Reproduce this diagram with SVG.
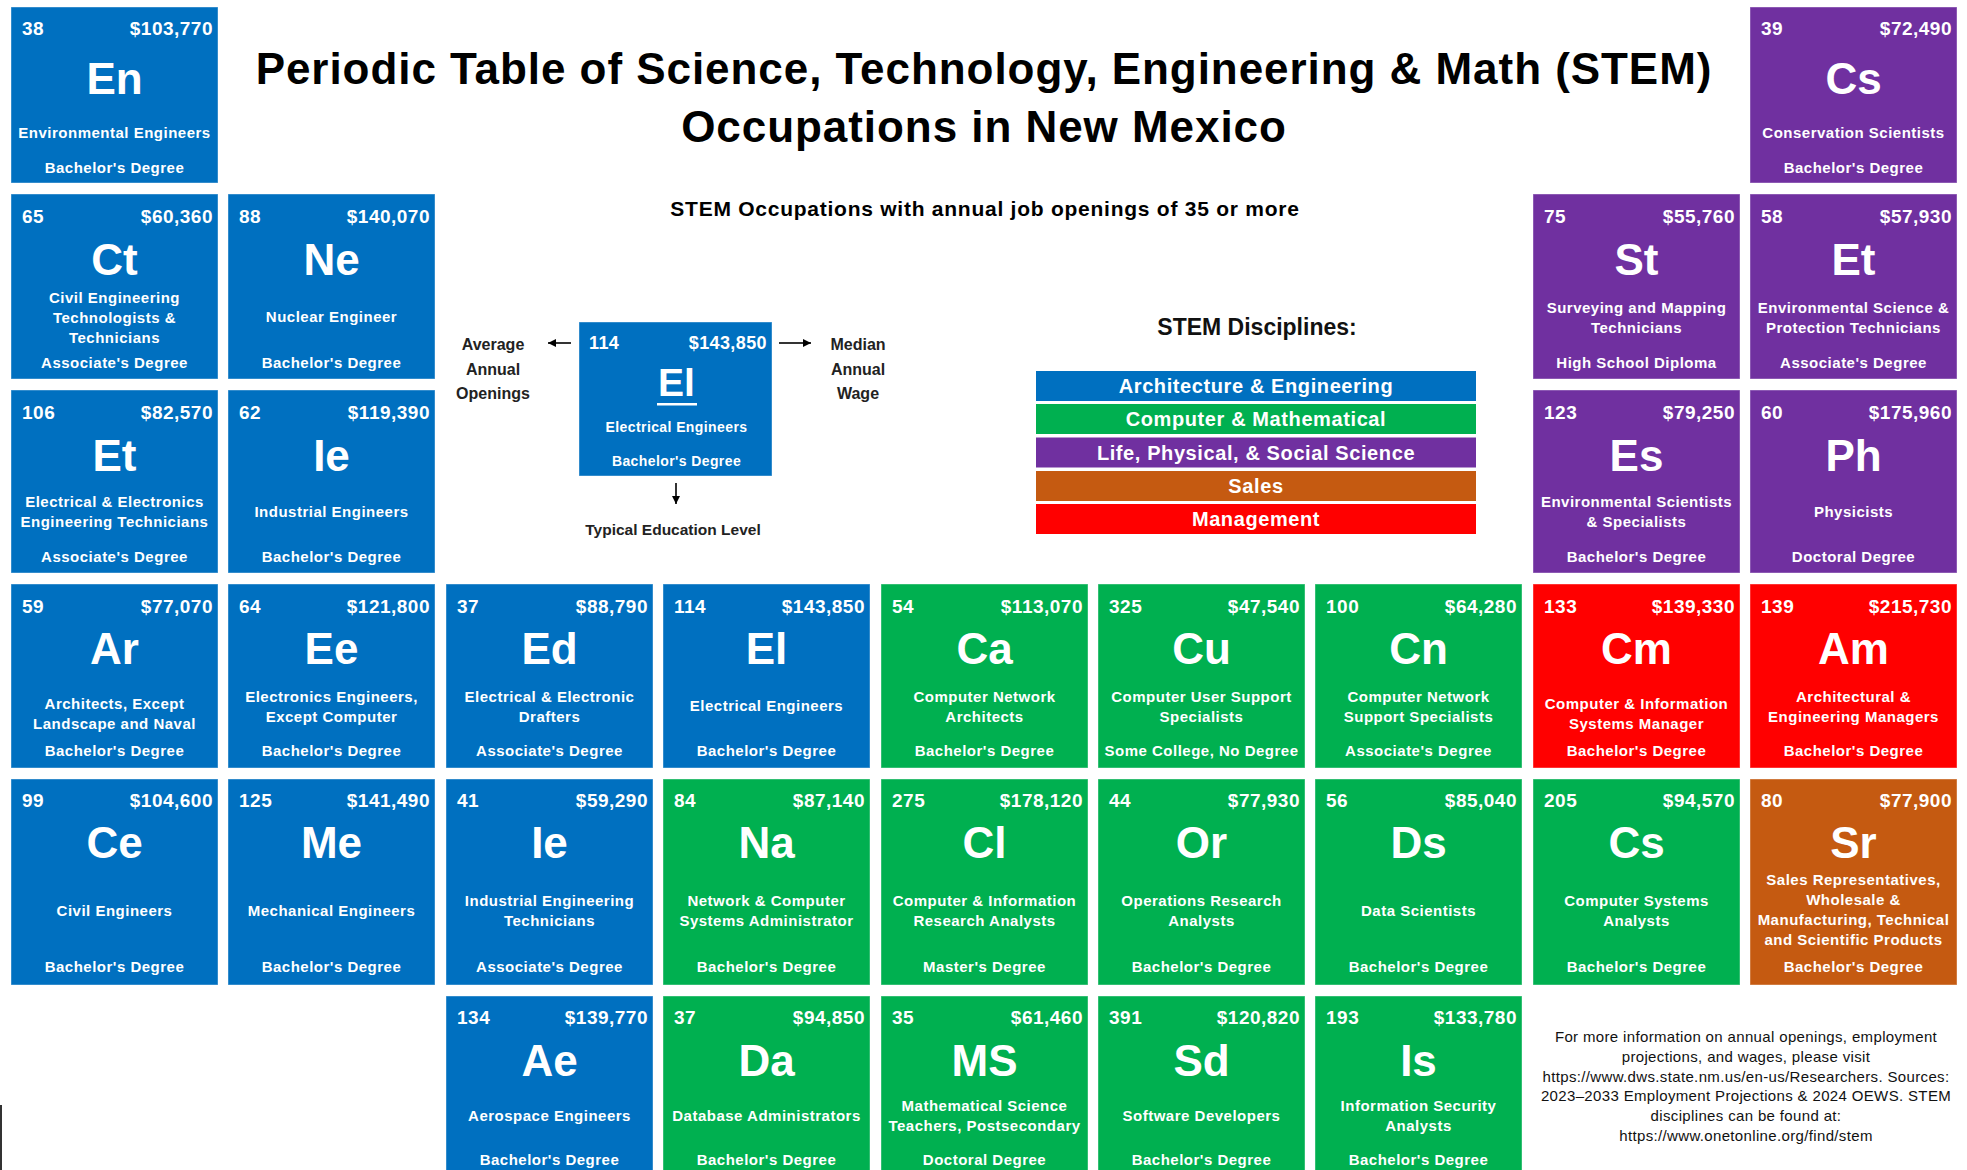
<svg xmlns="http://www.w3.org/2000/svg" width="1967" height="1170" viewBox="0 0 1967 1170">
<defs>
<style>
.bg{fill:#ffffff}
.tile{stroke:#ffffff;stroke-opacity:0.4;stroke-width:1}
.blue{fill:#0070C0}.green{fill:#00B050}.purple{fill:#7030A0}.red{fill:#FF0000}.brown{fill:#C55A11}
.num{font-family:"Liberation Sans",Arial,sans-serif;font-weight:bold;font-size:19px;fill:#fff;letter-spacing:0.5px}
.wage{font-family:"Liberation Sans",Arial,sans-serif;font-weight:bold;font-size:19px;fill:#fff;letter-spacing:0.5px;text-anchor:end}
.sym{font-family:"Liberation Sans",Arial,sans-serif;font-weight:bold;font-size:44px;fill:#fff;text-anchor:middle}
.nm{font-family:"Liberation Sans",Arial,sans-serif;font-weight:bold;font-size:15px;fill:#fff;letter-spacing:0.5px;text-anchor:middle}
.title{font-family:"Liberation Sans",Arial,sans-serif;font-weight:bold;font-size:44px;fill:#000;letter-spacing:0.95px;text-anchor:middle}
.sub{font-family:"Liberation Sans",Arial,sans-serif;font-weight:bold;font-size:21px;fill:#000;letter-spacing:0.75px;text-anchor:middle}
.lbl{font-family:"Liberation Sans",Arial,sans-serif;font-weight:bold;font-size:16px;fill:#222;text-anchor:middle}
.lnum{font-family:"Liberation Sans",Arial,sans-serif;font-weight:bold;font-size:18px;fill:#fff;letter-spacing:0.4px}
.lnm{font-family:"Liberation Sans",Arial,sans-serif;font-weight:bold;font-size:14px;fill:#fff;letter-spacing:0.4px;text-anchor:middle}
.disc{font-family:"Liberation Sans",Arial,sans-serif;font-weight:bold;font-size:23px;fill:#111;text-anchor:middle}
.bar{font-family:"Liberation Sans",Arial,sans-serif;font-weight:bold;font-size:20px;fill:#fff;letter-spacing:0.6px;text-anchor:middle}
.foot{font-family:"Liberation Sans",Arial,sans-serif;font-size:15px;fill:#111;letter-spacing:0.35px;text-anchor:middle}
.conn{stroke:#000;stroke-width:1.6;fill:none}
</style>
<marker id="ah" viewBox="0 0 10 10" refX="10" refY="5" markerWidth="8" markerHeight="8" markerUnits="userSpaceOnUse" orient="auto">
<path d="M0,0 L10,5 L0,10 z" fill="#000"/>
</marker>
</defs>
<rect class="bg" x="0" y="0" width="1967" height="1170"/>
<rect x="0" y="1105" width="2" height="65" fill="#333"/>

<g id="title">
<text class="title" x="984" y="84">Periodic Table of Science, Technology, Engineering &amp; Math (STEM)</text>
<text class="title" x="984" y="142">Occupations in New Mexico</text>
<text class="sub" x="985" y="216">STEM Occupations with annual job openings of 35 or more</text>
</g>

<!-- Row 1 -->
<g id="r1-En"><rect class="tile blue" x="11" y="7" width="207" height="176"/>
<text class="num" x="22" y="35">38</text><text class="wage" x="213" y="35">$103,770</text>
<text class="sym" x="114.5" y="94">En</text>
<text class="nm" x="114.5" y="138">Environmental Engineers</text>
<text class="nm" x="114.5" y="173">Bachelor's Degree</text></g>
<g id="r1-Cs"><rect class="tile purple" x="1750" y="7" width="207" height="176"/>
<text class="num" x="1761" y="35">39</text><text class="wage" x="1952" y="35">$72,490</text>
<text class="sym" x="1853.5" y="94">Cs</text>
<text class="nm" x="1853.5" y="138">Conservation Scientists</text>
<text class="nm" x="1853.5" y="173">Bachelor's Degree</text></g>

<!-- Row 2 -->
<g id="r2-Ct"><rect class="tile blue" x="11" y="194" width="207" height="185"/>
<text class="num" x="22" y="223">65</text><text class="wage" x="213" y="223">$60,360</text>
<text class="sym" x="114.5" y="275">Ct</text>
<text class="nm" x="114.5" y="303">Civil Engineering</text>
<text class="nm" x="114.5" y="323">Technologists &amp;</text>
<text class="nm" x="114.5" y="343">Technicians</text>
<text class="nm" x="114.5" y="368">Associate's Degree</text></g>
<g id="r2-Ne"><rect class="tile blue" x="228" y="194" width="207" height="185"/>
<text class="num" x="239" y="223">88</text><text class="wage" x="430" y="223">$140,070</text>
<text class="sym" x="331.5" y="275">Ne</text>
<text class="nm" x="331.5" y="322">Nuclear Engineer</text>
<text class="nm" x="331.5" y="368">Bachelor's Degree</text></g>
<g id="r2-St"><rect class="tile purple" x="1533" y="194" width="207" height="185"/>
<text class="num" x="1544" y="223">75</text><text class="wage" x="1735" y="223">$55,760</text>
<text class="sym" x="1636.5" y="275">St</text>
<text class="nm" x="1636.5" y="313">Surveying and Mapping</text>
<text class="nm" x="1636.5" y="333">Technicians</text>
<text class="nm" x="1636.5" y="368">High School Diploma</text></g>
<g id="r2-Et"><rect class="tile purple" x="1750" y="194" width="207" height="185"/>
<text class="num" x="1761" y="223">58</text><text class="wage" x="1952" y="223">$57,930</text>
<text class="sym" x="1853.5" y="275">Et</text>
<text class="nm" x="1853.5" y="313">Environmental Science &amp;</text>
<text class="nm" x="1853.5" y="333">Protection Technicians</text>
<text class="nm" x="1853.5" y="368">Associate's Degree</text></g>

<!-- Row 3 -->
<g id="r3-Et"><rect class="tile blue" x="11" y="390" width="207" height="183"/>
<text class="num" x="22" y="419">106</text><text class="wage" x="213" y="419">$82,570</text>
<text class="sym" x="114.5" y="471">Et</text>
<text class="nm" x="114.5" y="507">Electrical &amp; Electronics</text>
<text class="nm" x="114.5" y="527">Engineering Technicians</text>
<text class="nm" x="114.5" y="562">Associate's Degree</text></g>
<g id="r3-Ie"><rect class="tile blue" x="228" y="390" width="207" height="183"/>
<text class="num" x="239" y="419">62</text><text class="wage" x="430" y="419">$119,390</text>
<text class="sym" x="331.5" y="471">Ie</text>
<text class="nm" x="331.5" y="517">Industrial Engineers</text>
<text class="nm" x="331.5" y="562">Bachelor's Degree</text></g>
<g id="r3-Es"><rect class="tile purple" x="1533" y="390" width="207" height="183"/>
<text class="num" x="1544" y="419">123</text><text class="wage" x="1735" y="419">$79,250</text>
<text class="sym" x="1636.5" y="471">Es</text>
<text class="nm" x="1636.5" y="507">Environmental Scientists</text>
<text class="nm" x="1636.5" y="527">&amp; Specialists</text>
<text class="nm" x="1636.5" y="562">Bachelor's Degree</text></g>
<g id="r3-Ph"><rect class="tile purple" x="1750" y="390" width="207" height="183"/>
<text class="num" x="1761" y="419">60</text><text class="wage" x="1952" y="419">$175,960</text>
<text class="sym" x="1853.5" y="471">Ph</text>
<text class="nm" x="1853.5" y="517">Physicists</text>
<text class="nm" x="1853.5" y="562">Doctoral Degree</text></g>

<!-- Row 4 -->
<g id="r4-Ar"><rect class="tile blue" x="11" y="584" width="207" height="184"/>
<text class="num" x="22" y="613">59</text><text class="wage" x="213" y="613">$77,070</text>
<text class="sym" x="114.5" y="664">Ar</text>
<text class="nm" x="114.5" y="709">Architects, Except</text>
<text class="nm" x="114.5" y="729">Landscape and Naval</text>
<text class="nm" x="114.5" y="756">Bachelor's Degree</text></g>
<g id="r4-Ee"><rect class="tile blue" x="228" y="584" width="207" height="184"/>
<text class="num" x="239" y="613">64</text><text class="wage" x="430" y="613">$121,800</text>
<text class="sym" x="331.5" y="664">Ee</text>
<text class="nm" x="331.5" y="702">Electronics Engineers,</text>
<text class="nm" x="331.5" y="722">Except Computer</text>
<text class="nm" x="331.5" y="756">Bachelor's Degree</text></g>
<g id="r4-Ed"><rect class="tile blue" x="446" y="584" width="207" height="184"/>
<text class="num" x="457" y="613">37</text><text class="wage" x="648" y="613">$88,790</text>
<text class="sym" x="549.5" y="664">Ed</text>
<text class="nm" x="549.5" y="702">Electrical &amp; Electronic</text>
<text class="nm" x="549.5" y="722">Drafters</text>
<text class="nm" x="549.5" y="756">Associate's Degree</text></g>
<g id="r4-El"><rect class="tile blue" x="663" y="584" width="207" height="184"/>
<text class="num" x="674" y="613">114</text><text class="wage" x="865" y="613">$143,850</text>
<text class="sym" x="766.5" y="664">El</text>
<text class="nm" x="766.5" y="711">Electrical Engineers</text>
<text class="nm" x="766.5" y="756">Bachelor's Degree</text></g>
<g id="r4-Ca"><rect class="tile green" x="881" y="584" width="207" height="184"/>
<text class="num" x="892" y="613">54</text><text class="wage" x="1083" y="613">$113,070</text>
<text class="sym" x="984.5" y="664">Ca</text>
<text class="nm" x="984.5" y="702">Computer Network</text>
<text class="nm" x="984.5" y="722">Architects</text>
<text class="nm" x="984.5" y="756">Bachelor's Degree</text></g>
<g id="r4-Cu"><rect class="tile green" x="1098" y="584" width="207" height="184"/>
<text class="num" x="1109" y="613">325</text><text class="wage" x="1300" y="613">$47,540</text>
<text class="sym" x="1201.5" y="664">Cu</text>
<text class="nm" x="1201.5" y="702">Computer User Support</text>
<text class="nm" x="1201.5" y="722">Specialists</text>
<text class="nm" x="1201.5" y="756">Some College, No Degree</text></g>
<g id="r4-Cn"><rect class="tile green" x="1315" y="584" width="207" height="184"/>
<text class="num" x="1326" y="613">100</text><text class="wage" x="1517" y="613">$64,280</text>
<text class="sym" x="1418.5" y="664">Cn</text>
<text class="nm" x="1418.5" y="702">Computer Network</text>
<text class="nm" x="1418.5" y="722">Support Specialists</text>
<text class="nm" x="1418.5" y="756">Associate's Degree</text></g>
<g id="r4-Cm"><rect class="tile red" x="1533" y="584" width="207" height="184"/>
<text class="num" x="1544" y="613">133</text><text class="wage" x="1735" y="613">$139,330</text>
<text class="sym" x="1636.5" y="664">Cm</text>
<text class="nm" x="1636.5" y="709">Computer &amp; Information</text>
<text class="nm" x="1636.5" y="729">Systems Manager</text>
<text class="nm" x="1636.5" y="756">Bachelor's Degree</text></g>
<g id="r4-Am"><rect class="tile red" x="1750" y="584" width="207" height="184"/>
<text class="num" x="1761" y="613">139</text><text class="wage" x="1952" y="613">$215,730</text>
<text class="sym" x="1853.5" y="664">Am</text>
<text class="nm" x="1853.5" y="702">Architectural &amp;</text>
<text class="nm" x="1853.5" y="722">Engineering Managers</text>
<text class="nm" x="1853.5" y="756">Bachelor's Degree</text></g>

<!-- Row 5 -->
<g id="r5-Ce"><rect class="tile blue" x="11" y="779" width="207" height="206"/>
<text class="num" x="22" y="807">99</text><text class="wage" x="213" y="807">$104,600</text>
<text class="sym" x="114.5" y="858">Ce</text>
<text class="nm" x="114.5" y="916">Civil Engineers</text>
<text class="nm" x="114.5" y="972">Bachelor's Degree</text></g>
<g id="r5-Me"><rect class="tile blue" x="228" y="779" width="207" height="206"/>
<text class="num" x="239" y="807">125</text><text class="wage" x="430" y="807">$141,490</text>
<text class="sym" x="331.5" y="858">Me</text>
<text class="nm" x="331.5" y="916">Mechanical Engineers</text>
<text class="nm" x="331.5" y="972">Bachelor's Degree</text></g>
<g id="r5-Ie"><rect class="tile blue" x="446" y="779" width="207" height="206"/>
<text class="num" x="457" y="807">41</text><text class="wage" x="648" y="807">$59,290</text>
<text class="sym" x="549.5" y="858">Ie</text>
<text class="nm" x="549.5" y="906">Industrial Engineering</text>
<text class="nm" x="549.5" y="926">Technicians</text>
<text class="nm" x="549.5" y="972">Associate's Degree</text></g>
<g id="r5-Na"><rect class="tile green" x="663" y="779" width="207" height="206"/>
<text class="num" x="674" y="807">84</text><text class="wage" x="865" y="807">$87,140</text>
<text class="sym" x="766.5" y="858">Na</text>
<text class="nm" x="766.5" y="906">Network &amp; Computer</text>
<text class="nm" x="766.5" y="926">Systems Administrator</text>
<text class="nm" x="766.5" y="972">Bachelor's Degree</text></g>
<g id="r5-Cl"><rect class="tile green" x="881" y="779" width="207" height="206"/>
<text class="num" x="892" y="807">275</text><text class="wage" x="1083" y="807">$178,120</text>
<text class="sym" x="984.5" y="858">Cl</text>
<text class="nm" x="984.5" y="906">Computer &amp; Information</text>
<text class="nm" x="984.5" y="926">Research Analysts</text>
<text class="nm" x="984.5" y="972">Master's Degree</text></g>
<g id="r5-Or"><rect class="tile green" x="1098" y="779" width="207" height="206"/>
<text class="num" x="1109" y="807">44</text><text class="wage" x="1300" y="807">$77,930</text>
<text class="sym" x="1201.5" y="858">Or</text>
<text class="nm" x="1201.5" y="906">Operations Research</text>
<text class="nm" x="1201.5" y="926">Analysts</text>
<text class="nm" x="1201.5" y="972">Bachelor's Degree</text></g>
<g id="r5-Ds"><rect class="tile green" x="1315" y="779" width="207" height="206"/>
<text class="num" x="1326" y="807">56</text><text class="wage" x="1517" y="807">$85,040</text>
<text class="sym" x="1418.5" y="858">Ds</text>
<text class="nm" x="1418.5" y="916">Data Scientists</text>
<text class="nm" x="1418.5" y="972">Bachelor's Degree</text></g>
<g id="r5-Cs"><rect class="tile green" x="1533" y="779" width="207" height="206"/>
<text class="num" x="1544" y="807">205</text><text class="wage" x="1735" y="807">$94,570</text>
<text class="sym" x="1636.5" y="858">Cs</text>
<text class="nm" x="1636.5" y="906">Computer Systems</text>
<text class="nm" x="1636.5" y="926">Analysts</text>
<text class="nm" x="1636.5" y="972">Bachelor's Degree</text></g>
<g id="r5-Sr"><rect class="tile brown" x="1750" y="779" width="207" height="206"/>
<text class="num" x="1761" y="807">80</text><text class="wage" x="1952" y="807">$77,900</text>
<text class="sym" x="1853.5" y="858">Sr</text>
<text class="nm" x="1853.5" y="885">Sales Representatives,</text>
<text class="nm" x="1853.5" y="905">Wholesale &amp;</text>
<text class="nm" x="1853.5" y="925">Manufacturing, Technical</text>
<text class="nm" x="1853.5" y="945">and Scientific Products</text>
<text class="nm" x="1853.5" y="972">Bachelor's Degree</text></g>

<!-- Row 6 -->
<g id="r6-Ae"><rect class="tile blue" x="446" y="996" width="207" height="190"/>
<text class="num" x="457" y="1024">134</text><text class="wage" x="648" y="1024">$139,770</text>
<text class="sym" x="549.5" y="1076">Ae</text>
<text class="nm" x="549.5" y="1121">Aerospace Engineers</text>
<text class="nm" x="549.5" y="1165">Bachelor's Degree</text></g>
<g id="r6-Da"><rect class="tile green" x="663" y="996" width="207" height="190"/>
<text class="num" x="674" y="1024">37</text><text class="wage" x="865" y="1024">$94,850</text>
<text class="sym" x="766.5" y="1076">Da</text>
<text class="nm" x="766.5" y="1121">Database Administrators</text>
<text class="nm" x="766.5" y="1165">Bachelor's Degree</text></g>
<g id="r6-MS"><rect class="tile green" x="881" y="996" width="207" height="190"/>
<text class="num" x="892" y="1024">35</text><text class="wage" x="1083" y="1024">$61,460</text>
<text class="sym" x="984.5" y="1076">MS</text>
<text class="nm" x="984.5" y="1111">Mathematical Science</text>
<text class="nm" x="984.5" y="1131">Teachers, Postsecondary</text>
<text class="nm" x="984.5" y="1165">Doctoral Degree</text></g>
<g id="r6-Sd"><rect class="tile green" x="1098" y="996" width="207" height="190"/>
<text class="num" x="1109" y="1024">391</text><text class="wage" x="1300" y="1024">$120,820</text>
<text class="sym" x="1201.5" y="1076">Sd</text>
<text class="nm" x="1201.5" y="1121">Software Developers</text>
<text class="nm" x="1201.5" y="1165">Bachelor's Degree</text></g>
<g id="r6-Is"><rect class="tile green" x="1315" y="996" width="207" height="190"/>
<text class="num" x="1326" y="1024">193</text><text class="wage" x="1517" y="1024">$133,780</text>
<text class="sym" x="1418.5" y="1076">Is</text>
<text class="nm" x="1418.5" y="1111">Information Security</text>
<text class="nm" x="1418.5" y="1131">Analysts</text>
<text class="nm" x="1418.5" y="1165">Bachelor's Degree</text></g>

<!-- Key sample -->
<g id="key-sample"><rect class="tile blue" x="579" y="322" width="193" height="154"/>
<text class="lnum" x="589" y="349">114</text>
<text class="lnum" x="767" y="349" text-anchor="end">$143,850</text>
<text class="sym" x="676.5" y="396" style="font-size:39px">El</text>
<rect x="657" y="403" width="40" height="2.5" fill="#fff"/>
<text class="lnm" x="676.5" y="432">Electrical Engineers</text>
<text class="lnm" x="676.5" y="466">Bachelor's Degree</text></g>
<g id="key-openings">
<text class="lbl" x="493" y="350">Average</text>
<text class="lbl" x="493" y="375">Annual</text>
<text class="lbl" x="493" y="399">Openings</text></g>
<g id="key-wage">
<text class="lbl" x="858" y="350">Median</text>
<text class="lbl" x="858" y="375">Annual</text>
<text class="lbl" x="858" y="399">Wage</text></g>
<g id="key-education">
<text class="lbl" x="673" y="535" style="font-size:15.5px">Typical Education Level</text></g>

<g id="connectors">
<line class="conn" x1="571" y1="343" x2="548" y2="343" marker-end="url(#ah)"/>
<line class="conn" x1="779" y1="343" x2="811" y2="343" marker-end="url(#ah)"/>
<line class="conn" x1="676" y1="483" x2="676" y2="504" marker-end="url(#ah)"/>
</g>

<!-- Disciplines legend -->
<g id="disciplines">
<text class="disc" x="1257" y="335">STEM Disciplines:</text>
<rect class="blue" x="1036" y="371" width="440" height="30"/>
<text class="bar" x="1256" y="393">Architecture &amp; Engineering</text>
<rect class="green" x="1036" y="404" width="440" height="30"/>
<text class="bar" x="1256" y="426">Computer &amp; Mathematical</text>
<rect class="purple" x="1036" y="437.5" width="440" height="30"/>
<text class="bar" x="1256" y="459.5">Life, Physical, &amp; Social Science</text>
<rect class="brown" x="1036" y="471" width="440" height="30"/>
<text class="bar" x="1256" y="493">Sales</text>
<rect class="red" x="1036" y="504" width="440" height="30"/>
<text class="bar" x="1256" y="526">Management</text>
</g>

<g id="footnote">
<text class="foot" x="1746" y="1042">For more information on annual openings, employment</text>
<text class="foot" x="1746" y="1062">projections, and wages, please visit</text>
<text class="foot" x="1746" y="1082">https://www.dws.state.nm.us/en-us/Researchers. Sources:</text>
<text class="foot" x="1746" y="1101">2023–2033 Employment Projections &amp; 2024 OEWS. STEM</text>
<text class="foot" x="1746" y="1121">disciplines can be found at:</text>
<text class="foot" x="1746" y="1141">https://www.onetonline.org/find/stem</text>
</g>
</svg>
